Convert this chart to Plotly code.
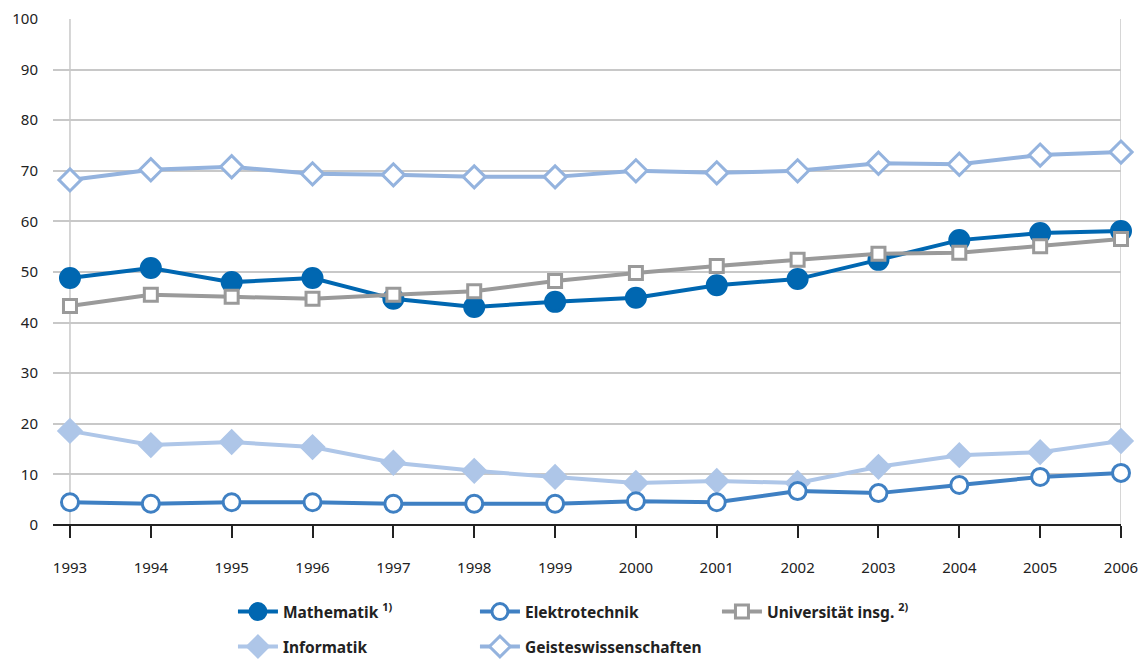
import plotly.graph_objects as go

years = [1993, 1994, 1995, 1996, 1997, 1998, 1999, 2000, 2001, 2002, 2003, 2004, 2005, 2006]
mathematik = [48.8, 50.8, 48.0, 48.8, 44.7, 43.1, 44.1, 44.9, 47.4, 48.6, 52.4, 56.3, 57.7, 58.1]
elektrotechnik = [4.5, 4.2, 4.5, 4.5, 4.2, 4.2, 4.2, 4.7, 4.5, 6.7, 6.3, 7.9, 9.5, 10.3]
universitaet = [43.3, 45.5, 45.1, 44.7, 45.5, 46.2, 48.2, 49.8, 51.2, 52.4, 53.6, 53.8, 55.1, 56.5]
informatik = [18.6, 15.8, 16.4, 15.4, 12.3, 10.7, 9.5, 8.3, 8.7, 8.3, 11.5, 13.8, 14.4, 16.6]
geistes = [68.2, 70.2, 70.8, 69.4, 69.2, 68.8, 68.8, 70.0, 69.6, 70.0, 71.5, 71.3, 73.1, 73.7]
y_ticks = [0, 10, 20, 30, 40, 50, 60, 70, 80, 90, 100]

fig = go.Figure()

def add(name, vals, color, symbol, size, fill, rank, legend):
    fig.add_trace(go.Scatter(
        x=years, y=vals, name=name, mode="lines+markers",
        line=dict(color=color, width=4),
        marker=dict(symbol=symbol, size=size, color=fill,
                    line=dict(color=color, width=3)),
        legendrank=rank, legend=legend, cliponaxis=False,
    ))

add("Geisteswissenschaften", geistes, "#94b3de", "diamond", 17, "white", 5, "legend2")
add("Informatik", informatik, "#aec6e8", "diamond", 17, "#aec6e8", 4, "legend2")
add("Elektrotechnik", elektrotechnik, "#3f80c3", "circle", 17, "white", 2, "legend")
add("Mathematik <sup>1)</sup>", mathematik, "#0067b1", "circle", 19, "#0067b1", 1, "legend")
add("Universität insg. <sup>2)</sup>", universitaet, "#9a9a9a", "square", 13, "white", 3, "legend")

fig.add_shape(type="line", xref="x", yref="y", x0=1993, x1=1993, y0=0, y1=100,
              line=dict(color="#c8c8c8", width=1.5), layer="below")
fig.add_shape(type="line", xref="x", yref="y", x0=2006, x1=2006, y0=0, y1=100,
              line=dict(color="#c8c8c8", width=1.5), layer="below")

legend_font = dict(family="Noto Sans", size=15.5, color="#222222", weight="bold")
legend_common = dict(
    orientation="h", x=0.1685, xanchor="left", yanchor="middle",
    entrywidth=187, entrywidthmode="pixels", font=legend_font,
    traceorder="normal", itemwidth=40, bgcolor="rgba(0,0,0,0)",
)

fig.update_layout(
    width=1146, height=663,
    margin=dict(l=53, r=25, t=19, b=138, autoexpand=False),
    paper_bgcolor="white", plot_bgcolor="white",
    font=dict(family="Noto Sans", size=15, color="#222222"),
    showlegend=True,
    legend=dict(y=-0.172, **legend_common),
    legend2=dict(y=-0.241, **legend_common),
    xaxis=dict(
        range=[1992.79, 2006], tickmode="array", tickvals=years,
        ticktext=[str(y) for y in years], automargin=False,
        showgrid=False, zeroline=False, showline=False,
        ticks="outside", ticklen=12, tickcolor="#222222", tickwidth=1.5,
        ticklabelstandoff=17,
        tickfont=dict(size=15, color="#222222"),
    ),
    yaxis=dict(
        range=[0, 100], tickmode="array", tickvals=y_ticks, automargin=False,
        showgrid=True, gridcolor="#c8c8c8", gridwidth=1.5,
        zeroline=True, zerolinecolor="#222222", zerolinewidth=1.5,
        showline=False, ticks="", ticklabelstandoff=14,
        tickfont=dict(size=15, color="#222222"),
    ),
)

fig.write_html(
    "out.html",
    config={"displayModeBar": False},
    post_script="document.body.style.margin='0';document.body.style.overflow='hidden';",
)
